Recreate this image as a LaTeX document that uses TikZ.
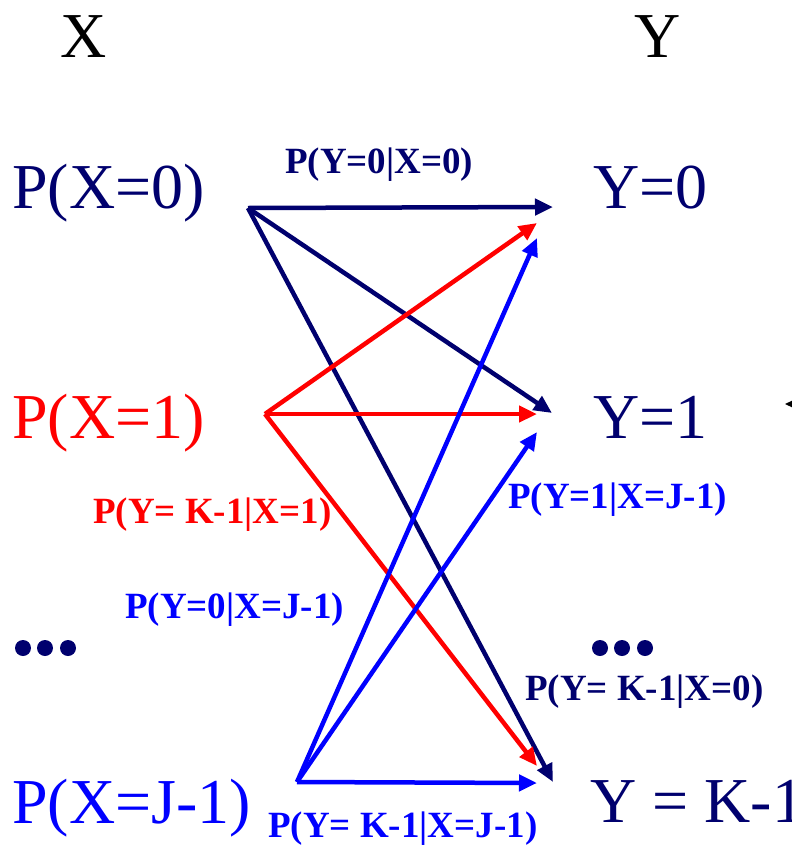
\documentclass[tikz,border=0pt]{standalone}
\usepackage{fontspec}
\setmainfont{Liberation Serif}
\usetikzlibrary{arrows.meta, positioning}
\definecolor{chnavy}{RGB}{0, 0, 110}
\definecolor{chred}{RGB}{255, 0, 0}
\definecolor{chblue}{RGB}{0, 0, 255}

\begin{document}
\begin{tikzpicture}[x=1pt, y=-1pt,
  biglbl/.style={inner sep=0pt, anchor=base west, font=\fontsize{64}{70}\selectfont},
  problbl/.style={inner sep=0pt, anchor=base west, font=\fontsize{37}{40}\selectfont\bfseries},
  chan/.style={line width=4.5pt, -{Triangle[length=18pt, width=16pt]}},
  dotmark/.style={fill=chnavy, draw=none}
]
  \clip (0, 0) rectangle (792, 852);

  % column heads
  \node[biglbl, anchor=base] (xhead) at (84, 57) {X};
  \node[biglbl, anchor=base] (yhead) at (658, 57) {Y};

  % inputs and outputs
  \node[biglbl, text=chnavy] (px0) at (12, 208) {P(X=0)};
  \node[biglbl, text=chred] (px1) at (12, 438) {P(X=1)};
  \node[biglbl, text=chblue] (pxj) at (12, 823) {P(X=J-1)};
  \node[biglbl, text=chnavy] (y0) at (593, 208) {Y=0};
  \node[biglbl, text=chnavy] (y1) at (593, 438) {Y=1};
  \node[biglbl, text=chnavy] (yk) at (590, 822) {Y = K-1};

  \foreach \dx in {23, 45, 68} {
    \fill[dotmark] (\dx, 648) circle (8);
    \fill[dotmark] (\dx+577, 648) circle (8);
  }

  % arrow ends
  \coordinate (s0) at (248, 208);
  \coordinate (s1) at (265, 414);
  \coordinate (sj) at (297, 782);
  \coordinate (t00) at (553, 207);
  \coordinate (t01) at (552, 413);
  \coordinate (t0k) at (553, 782);
  \coordinate (t10) at (537, 223);
  \coordinate (t11) at (537, 414);
  \coordinate (t1k) at (537, 766);
  \coordinate (tj0) at (537, 238);
  \coordinate (tj1) at (537, 432);
  \coordinate (tjk) at (537, 783);

  \foreach \t in {t00, t01, t0k} \draw[chan, chnavy] (s0) -- (\t);
  \foreach \t in {t10, t11, t1k} \draw[chan, chred] (s1) -- (\t);
  \foreach \t in {tj0, tj1, tjk} \draw[chan, chblue] (sj) -- (\t);

  % transition labels
  \node[problbl, text=chnavy] (l00) at (285, 173) {P(Y=0|X=0)};
  \node[problbl, text=chred] (l1k) at (93, 523) {P(Y= K-1|X=1)};
  \node[problbl, text=chblue] (lj0) at (125, 618) {P(Y=0|X=J-1)};
  \node[problbl, text=chblue] (lj1) at (508, 508) {P(Y=1|X=J-1)};
  \node[problbl, text=chnavy] (l0k) at (525, 700) {P(Y= K-1|X=0)};
  \node[problbl, text=chblue] (ljk) at (268, 837) {P(Y= K-1|X=J-1)};

  % edge of a cut-off marker
  \fill (785, 404) -- (800, 397) -- (800, 411) -- cycle;
\end{tikzpicture}
\end{document}
